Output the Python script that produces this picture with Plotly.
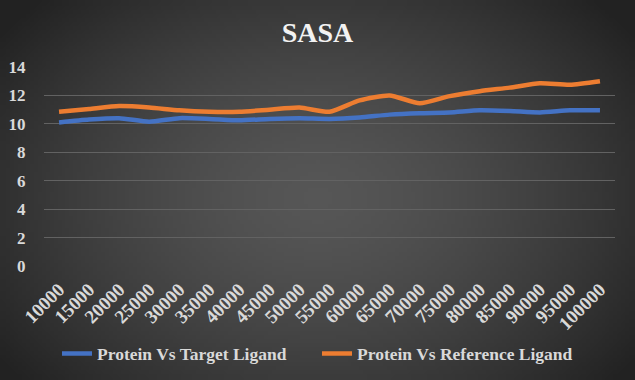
import base64
import struct
import zlib
import plotly.graph_objects as go

categories = ["10000", "15000", "20000", "25000", "30000", "35000", "40000", "45000", "50000", "55000",
              "60000", "65000", "70000", "75000", "80000", "85000", "90000", "95000", "100000"]
target_ligand = [10.1, 10.3, 10.4, 10.15, 10.4, 10.35, 10.25, 10.35, 10.4, 10.35,
                 10.45, 10.65, 10.75, 10.8, 10.95, 10.9, 10.8, 10.95, 10.95]
reference_ligand = [10.85, 11.05, 11.25, 11.15, 10.95, 10.85, 10.85, 11.0, 11.15, 10.85,
                    11.65, 12.0, 11.45, 11.95, 12.3, 12.55, 12.85, 12.75, 13.0]
y_ticks = [0, 2, 4, 6, 8, 10, 12, 14]

font_family = "Liberation Serif"

W, H = 635, 380
ML, MR, MT, MB = 44, 20, 67, 114


def gradient_png(w, h):
    rows = []
    for j in range(h):
        row = bytearray([0])
        for i in range(w):
            dx = (i / (w - 1) - 0.5) / 0.62
            dy = (j / (h - 1) - 0.52) / 0.75
            r = min(1.0, (dx * dx + dy * dy) ** 0.5)
            v = int(round(86 - (86 - 34) * r ** 1.5))
            row += bytes([v, v, v])
        rows.append(bytes(row))
    raw = b"".join(rows)

    def chunk(t, d):
        c = struct.pack(">I", len(d)) + t + d
        return c + struct.pack(">I", zlib.crc32(t + d) & 0xffffffff)

    png = b"\x89PNG\r\n\x1a\n" + chunk(b"IHDR", struct.pack(">IIBBBBB", w, h, 8, 2, 0, 0, 0))
    png += chunk(b"IDAT", zlib.compress(raw, 9)) + chunk(b"IEND", b"")
    return "data:image/png;base64," + base64.b64encode(png).decode()


pw, ph = W - ML - MR, H - MT - MB

fig = go.Figure()
fig.add_trace(go.Scatter(x=categories, y=target_ligand, mode="lines", name="Protein Vs Target Ligand",
                         line=dict(color="#4472C4", width=4.5, shape="spline", smoothing=0.6),
                         legend="legend"))
fig.add_trace(go.Scatter(x=categories, y=reference_ligand, mode="lines", name="Protein Vs Reference Ligand",
                         line=dict(color="#ED7D31", width=4.5, shape="spline", smoothing=0.6),
                         legend="legend2"))

fig.add_layout_image(dict(source=gradient_png(160, 96), xref="paper", yref="paper",
                          x=-ML / pw, y=1 + MT / ph, sizex=W / pw, sizey=H / ph,
                          xanchor="left", yanchor="top", sizing="stretch", layer="below"))

legend_font = dict(family=font_family, size=17.5, color="#d9d9d9", weight="bold")

fig.update_layout(
    width=W, height=H,
    paper_bgcolor="#3a3a3a",
    plot_bgcolor="rgba(0,0,0,0)",
    margin=dict(l=ML, r=MR, t=MT, b=MB, autoexpand=False),
    title=dict(text="<b>SASA</b>", x=0.5, xanchor="center", y=0.915, yanchor="middle",
               font=dict(family=font_family, size=28, color="#f2f2f2")),
    font=dict(family=font_family, color="#d9d9d9"),
    xaxis=dict(type="category", tickangle=-45, showgrid=False, zeroline=False, automargin=False,
               range=[-0.5, len(categories) - 0.5],
               tickfont=dict(family=font_family, size=19, color="#d9d9d9", weight="bold"),
               ticks="outside", ticklen=4, tickcolor="rgba(0,0,0,0)", showline=False),
    yaxis=dict(range=[0, 14], tickvals=y_ticks, showgrid=True, gridcolor="#626262", gridwidth=1.3,
               zeroline=False, ticks="outside", ticklen=14, tickcolor="rgba(0,0,0,0)",
               showline=False, automargin=False,
               tickfont=dict(family=font_family, size=17, color="#d9d9d9", weight="bold")),
    legend=dict(orientation="h", x=(57 - ML) / pw, xanchor="left", y=-0.44, yanchor="middle",
                font=legend_font, itemwidth=30, bgcolor="rgba(0,0,0,0)"),
    legend2=dict(orientation="h", x=(317 - ML) / pw, xanchor="left", y=-0.44, yanchor="middle",
                 font=legend_font, itemwidth=30, bgcolor="rgba(0,0,0,0)"),
    showlegend=True,
)

fig.write_html("out.html", config={"displayModeBar": False},
               post_script="document.body.style.margin='0';document.body.style.overflow='hidden';")
